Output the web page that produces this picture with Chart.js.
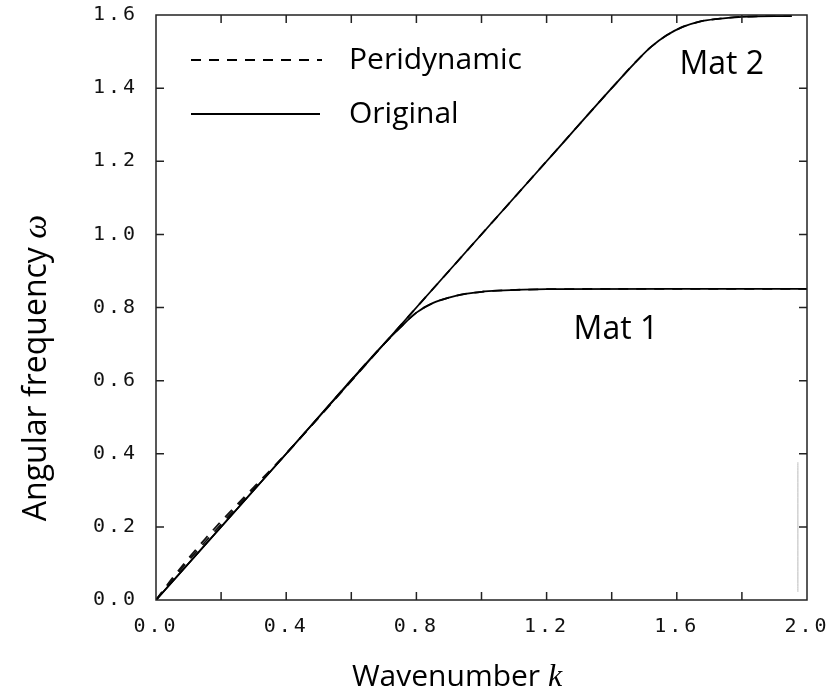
<!DOCTYPE html>
<html>
<head>
<meta charset="utf-8">
<script src="https://cdn.jsdelivr.net/npm/chart.js@4"></script>
<style>
  html, body { margin: 0; padding: 0; background: #fff; }
  #wrap { width: 830px; height: 699px; }
</style>
</head>
<body>
<div id="wrap"><canvas id="c" width="830" height="699"></canvas></div>
<script>
// ---- data ----
const kOrigMat1 = [0, 0.4, 0.7, 0.75, 0.8, 0.85, 0.9, 0.95, 1.0, 1.05, 1.2, 1.6, 2.0];
const wOrigMat1 = [0, 0.4, 0.7, 0.745, 0.786, 0.812, 0.827, 0.837, 0.843, 0.846, 0.85, 0.851, 0.851];

const kOrigMat2 = [0, 0.4, 0.8, 1.2, 1.4, 1.47, 1.52, 1.57, 1.62, 1.67, 1.72, 1.8, 1.9, 1.953];
const wOrigMat2 = [0, 0.4, 0.8, 1.2, 1.4, 1.468, 1.512, 1.545, 1.568, 1.582, 1.589, 1.595, 1.597, 1.597];

const kPeriMat1 = [0, 0.05, 0.1, 0.15, 0.2, 0.25, 0.3, 0.35, 0.4, 0.7, 0.75, 0.8, 0.85, 0.9, 0.95, 1.0, 1.05, 1.2, 1.6, 2.0];
const wPeriMat1 = [0, 0.056, 0.108, 0.158, 0.207, 0.256, 0.304, 0.352, 0.4, 0.7, 0.745, 0.786, 0.812, 0.827, 0.837, 0.843, 0.846, 0.85, 0.851, 0.851];

const kPeriMat2 = [0, 0.05, 0.1, 0.15, 0.2, 0.25, 0.3, 0.35, 0.4, 0.8, 1.2, 1.4, 1.47, 1.52, 1.57, 1.62, 1.67, 1.72, 1.8, 1.9, 1.953];
const wPeriMat2 = [0, 0.059, 0.114, 0.166, 0.215, 0.262, 0.308, 0.354, 0.401, 0.8, 1.2, 1.4, 1.468, 1.512, 1.545, 1.568, 1.582, 1.589, 1.595, 1.597, 1.597];

// faint stray vertical mark near the right edge of the reference
const kMark = [1.972, 1.972];
const wMark = [0.377, 0.022];

const xTickLabels = ['0.0', '0.4', '0.8', '1.2', '1.6', '2.0'];
const yTickLabels = ['0.0', '0.2', '0.4', '0.6', '0.8', '1.0', '1.2', '1.4', '1.6'];

const legendLabels = ['Peridynamic', 'Original'];
const matLabels = [{ text: 'Mat 2', k: 1.608, w: 1.44 }, { text: 'Mat 1', k: 1.283, w: 0.715 }];
const xTitle = ['Wavenumber ', 'k'];
const yTitle = ['Angular frequency ', 'ω'];

const pts = (ks, ws) => ks.map((k, i) => ({ x: k, y: ws[i] }));

const TICK_FONT = 'DejaVu Sans Mono';
const TEXT_FONT = '"Open Sans"';
const MATH_FONT = '"Liberation Serif"';

const framePlugin = {
  id: 'frame',
  beforeDraw(chart) {
    chart.ctx.letterSpacing = '3px';
  },
  afterDraw(chart) {
    const ctx = chart.ctx;
    const a = chart.chartArea;
    const xs = chart.scales.x, ys = chart.scales.y;
    ctx.save();
    ctx.letterSpacing = '0px';
    // frame
    ctx.strokeStyle = '#222';
    ctx.lineWidth = 1.5;
    ctx.strokeRect(a.left, a.top, a.right - a.left, a.bottom - a.top);
    // inward ticks on all sides
    const tl = 8;
    ctx.beginPath();
    xs.ticks.forEach(t => {
      const px = xs.getPixelForValue(t.value);
      if (px <= a.left + 1 || px >= a.right - 1) return;
      ctx.moveTo(px, a.bottom); ctx.lineTo(px, a.bottom - tl);
      ctx.moveTo(px, a.top); ctx.lineTo(px, a.top + tl);
    });
    ys.ticks.forEach(t => {
      const py = ys.getPixelForValue(t.value);
      if (py <= a.top + 1 || py >= a.bottom - 1) return;
      ctx.moveTo(a.left, py); ctx.lineTo(a.left + tl, py);
      ctx.moveTo(a.right, py); ctx.lineTo(a.right - tl, py);
    });
    ctx.stroke();

    // legend
    ctx.strokeStyle = '#000';
    ctx.lineWidth = 2;
    ctx.setLineDash([10, 8]);
    ctx.beginPath(); ctx.moveTo(191, 60); ctx.lineTo(322, 60); ctx.stroke();
    ctx.setLineDash([]);
    ctx.beginPath(); ctx.moveTo(191, 114); ctx.lineTo(320, 114); ctx.stroke();
    ctx.fillStyle = '#000';
    ctx.font = '30px ' + TEXT_FONT;
    ctx.textAlign = 'left';
    ctx.textBaseline = 'alphabetic';
    ctx.fillText(legendLabels[0], 349, 69);
    ctx.fillText(legendLabels[1], 349, 123);

    // material labels
    ctx.font = '32px ' + TEXT_FONT;
    matLabels.forEach(m => {
      ctx.fillText(m.text, xs.getPixelForValue(m.k), ys.getPixelForValue(m.w));
    });

    // x title
    ctx.font = '30px ' + TEXT_FONT;
    const w1 = ctx.measureText(xTitle[0]).width;
    ctx.font = 'italic 32px ' + MATH_FONT;
    const w2 = ctx.measureText(xTitle[1]).width;
    let x0 = 457 - (w1 + w2) / 2;
    ctx.font = '30px ' + TEXT_FONT;
    ctx.fillText(xTitle[0], x0, 686);
    ctx.font = 'italic 32px ' + MATH_FONT;
    ctx.fillText(xTitle[1], x0 + w1, 686);

    // y title
    ctx.save();
    ctx.translate(46, 368);
    ctx.rotate(-Math.PI / 2);
    ctx.font = '32px ' + TEXT_FONT;
    const v1 = ctx.measureText(yTitle[0]).width;
    ctx.font = 'italic 34px ' + MATH_FONT;
    const v2 = ctx.measureText(yTitle[1]).width;
    const y0 = -(v1 + v2) / 2;
    ctx.font = '32px ' + TEXT_FONT;
    ctx.fillText(yTitle[0], y0, 0);
    ctx.font = 'italic 34px ' + MATH_FONT;
    ctx.fillText(yTitle[1], y0 + v1, 0);
    ctx.restore();

    ctx.restore();
  }
};

const lineDs = (data, dash, color, width) => ({
  data, borderColor: color, borderWidth: width, borderDash: dash,
  pointRadius: 0, fill: false, cubicInterpolationMode: 'monotone', tension: 0.4
});

const zeroPad = s => { s.paddingLeft = 0; s.paddingRight = 0; s.paddingTop = 0; s.paddingBottom = 0; };

new Chart(document.getElementById('c'), {
  type: 'line',
  data: {
    datasets: [
      lineDs(pts(kMark, wMark), [], '#bbb', 1),
      lineDs(pts(kOrigMat1, wOrigMat1), [], '#000', 1.8),
      lineDs(pts(kOrigMat2, wOrigMat2), [], '#000', 1.8),
      lineDs(pts(kPeriMat1, wPeriMat1), [10, 8], '#111', 1.8),
      lineDs(pts(kPeriMat2, wPeriMat2), [10, 8], '#111', 1.8)
    ]
  },
  options: {
    responsive: false,
    devicePixelRatio: 1,
    animation: false,
    events: [],
    layout: { padding: { left: 0, right: 23, top: 15, bottom: 0 } },
    plugins: { legend: { display: false }, tooltip: { enabled: false } },
    scales: {
      x: {
        type: 'linear', min: 0, max: 2,
        grid: { display: false, drawTicks: false },
        border: { display: false },
        ticks: {
          stepSize: 0.2, padding: 15, maxRotation: 0, autoSkip: false,
          color: '#111', font: { family: TICK_FONT, size: 20 },
          callback: (v, i) => (i % 2 === 0 ? xTickLabels[i / 2] : '')
        },
        afterFit: s => { s.height = 99; zeroPad(s); }
      },
      y: {
        type: 'linear', min: 0, max: 1.6,
        grid: { display: false, drawTicks: false },
        border: { display: false },
        ticks: {
          stepSize: 0.2, padding: 18, autoSkip: false,
          color: '#111', font: { family: TICK_FONT, size: 20 },
          callback: (v, i) => yTickLabels[i]
        },
        afterFit: s => { s.width = 156; zeroPad(s); }
      }
    }
  },
  plugins: [framePlugin]
});
</script>
</body>
</html>
